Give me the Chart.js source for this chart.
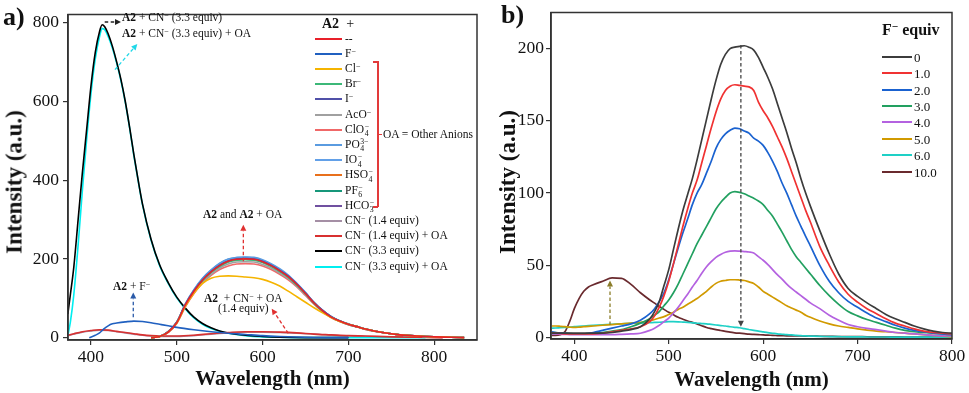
<!DOCTYPE html>
<html><head><meta charset="utf-8">
<script src="https://cdn.jsdelivr.net/npm/chart.js@4.4.0/dist/chart.umd.min.js"></script>
<style>
html,body{margin:0;padding:0;background:#fff}
body{width:969px;height:393px;position:relative;overflow:hidden;font-family:"Liberation Serif","Times New Roman",serif;color:#111}
canvas{position:absolute;top:0}
.t{position:absolute;white-space:nowrap;line-height:1;transform:translateY(-50%)}
.an{font-size:11.5px}
sup{font-size:70%;vertical-align:0.45em;line-height:0}
.ss{display:inline-block;vertical-align:middle;font-size:68%;line-height:0.95;text-align:left;margin-left:0.5px}
.ss span{display:block}
.ytitle{position:absolute;font-weight:bold;font-size:23px;white-space:nowrap;line-height:1;transform:translate(-50%,-50%) rotate(-90deg)}
.xtitle{position:absolute;font-weight:bold;font-size:21px;white-space:nowrap;line-height:1;transform:translate(-50%,-50%)}
.leg{position:absolute;left:0;height:0}
.leg i{position:absolute;height:2px;top:-1px}
.leg span.lt{position:absolute;white-space:nowrap;transform:translateY(-50%);line-height:1}
.br{position:absolute;background:#e23a3a}
.pl{position:absolute;font-weight:bold;font-size:26px;line-height:1;transform:translateY(-50%)}
</style></head><body>
<canvas id="ca" width="490" height="393" style="left:0"></canvas>
<canvas id="cb" width="484" height="393" style="left:485px"></canvas>
<div id="ov"></div>
<script>
// ---------------- Panel a data ----------------
const xTicksA = [400, 500, 600, 700, 800];
const yTicksA = [0, 200, 400, 600, 800];
const namesA = ['--','F⁻','Cl⁻','Br⁻','I⁻','AcO⁻','ClO₄⁻','PO₄³⁻','IO₄⁻','HSO₄⁻','PF₆⁻','HCO₃⁻','CN⁻ (1.4 equiv)','CN⁻ (1.4 equiv) + OA','CN⁻ (3.3 equiv)','CN⁻ (3.3 equiv) + OA'];
const wlA = [470,480,490,500,510,520,530,540,550,560,570,580,590,600,610,620,630,640,650,660,670,680,690,700,710,720,740,760,780,800,820,835];
const a_none = [0,3,14,38,83,118,146,167,183,194,199,200,199,193,183,170,155,135,112,88,68,52,42,34,28,22,13,7,4,2,1,0];
const a_Cl   = [0,3,14,37,80,113,138,151,156,157,156,154,152,148,141,131,118,104,90,76,63,51,41,34,28,22,13,7,4,2,1,0];
const a_Br   = [0,3,14,38,82,117,145,166,181,192,197,198,197,191,181,168,153,133,111,87,67,52,42,34,28,22,13,7,4,2,1,0];
const a_I    = [0,3,15,39,84,119,147,168,184,195,200,201,200,194,184,171,156,136,113,89,69,53,42,34,28,22,13,7,4,2,1,0];
const a_AcO  = [0,3,14,37,80,114,141,161,177,187,192,193,192,186,177,164,150,131,109,86,66,51,41,33,27,21,13,7,4,2,1,0];
const a_ClO4 = [0,3,13,36,78,112,138,158,173,182,187,188,187,182,173,161,147,129,107,85,66,51,41,33,27,21,13,7,4,2,1,0];
const a_PO4  = [0,3,15,40,86,122,151,172,189,200,204,205,204,198,188,175,159,138,115,90,70,54,43,35,28,22,13,7,4,2,1,0];
const a_IO4  = [0,3,15,39,85,121,150,171,188,199,203,204,202,196,186,173,157,137,114,89,69,53,42,34,28,22,13,7,4,2,1,0];
const a_HSO4 = [0,3,15,40,85,120,148,169,185,196,201,202,200,195,185,172,156,136,113,89,69,53,42,34,28,22,13,7,4,2,1,0];
const a_PF6  = [0,3,14,38,82,117,146,166,182,193,198,199,198,192,182,169,154,134,111,88,68,52,42,34,28,22,13,7,4,2,1,0];
const a_HCO3 = [0,3,14,38,83,118,147,168,184,195,200,201,199,193,183,170,155,135,112,88,68,52,42,34,28,22,13,7,4,2,1,0];
const wlF = [398,405,410,415,420,425,430,440,450,460,470,480,490,500,520,540,560,580,600,620,650,680,700];
const a_F = [0,6,12,22,30,35,37,40,42,41,38,34,30,26,20,15,11,8,5,3,1,0,0];
const wlLow = [373,380,390,400,410,420,430,440,450,460,470,480,500,520,540,560,580,600,620,640,660,680,700,720,750,780,810];
const a_CN14   = [5,9,14,17,19,18,15,12,9,6,4,3,3,5,9,12,14,14,13,11,9,6,4,3,2,1,0];
const a_CN14OA = [6,10,15,18,20,19,16,13,10,7,5,4,4,6,10,13,15,15,14,12,9,7,5,4,2,1,0];
const wlCN33 = [373,376,380,385,390,395,400,405,410,413,416,420,425,430,435,440,445,450,455,460,470,480,490,500,510,520,530,540,550,560,580,600,620,650,700];
const a_CN33 = [60,110,180,300,420,530,640,725,778,795,790,772,740,700,655,600,535,465,400,340,250,185,140,103,75,52,36,25,17,12,6,3,1,0,0];
const wlCN33OA = [373,376,380,385,390,395,400,405,410,413,416,420,425,430,435,440,445,450,455,460,470,480,490,500,510,520,530,540,550,560,580,600,620,650,700,750,790];
const a_CN33OA = [5,40,110,235,375,505,620,708,765,785,782,765,735,697,652,598,533,462,398,338,248,183,138,101,73,50,34,23,16,11,5,2,1,0,0,0,0];
const arrowFromA = [[416,802],[428,681],[577.6,194],[449.3,52],[630,11]];
const arrowToA   = [[435,802],[454,746],[577.6,287],[449.3,115],[610.7,73.5]];

// ---------------- Panel b data ----------------
const xTicksB = [400, 500, 600, 700, 800];
const yTicksB = [0, 50, 100, 150, 200];
const namesB = ['0','1.0','2.0','3.0','4.0','5.0','6.0','10.0'];
const wlB = [376,380,385,390,395,400,405,410,415,420,430,440,450,460,470,480,485,490,495,500,505,510,515,520,525,530,535,540,545,550,555,560,565,570,575,580,585,590,595,600,605,610,615,620,625,630,635,640,645,650,660,670,680,690,700,710,720,730,740,750,760,770,780,790,800];
const b0  = [3,3,3,3,3,3,3,3,3,3,3,3.5,4.5,5.5,7.5,13,18,25,36,47,61,75,88,99,110,123,137,151,165,178,189,196,200,201,201.5,202,201,199,194,187,180,172,162,152,142,131,121,110,100,91,74,58,44,34,28.5,24,20,16,13,10.5,8,6,4.5,3.5,3];
const b1  = [3,3,2.8,2.6,2.5,2.5,2.5,2.5,2.5,2.5,3,4,5,6,7.5,11,15,21,29,39,51,64,77,89,100,109,121,133,145,156,165,171,174,175,174.5,174,173.5,171,163,157,152,146,139,132,124,115,106,97,88,80,63,50,38.5,30,24.5,20,16.5,13,10,8,6,4.5,3.5,3,2.5];
const b2  = [4,3.5,3.2,3,2.7,2.5,2.5,2.5,3,3.5,5,6.5,8,9.5,12,16.5,20,25,31,40,51,62,72.5,82,92,100,106,114,122,131,137,141,143.5,145,144.5,143,141.5,138,136,133,128,122,115,107,100,92,84,77,70,63.5,50,39,31,25,21,17,13.5,11,8.5,6.5,5,4,3,2.5,2];
const b3  = [3.5,3.5,3.2,3,2.8,2.5,2.5,2.5,2.8,3,3.5,4.5,5.5,7.5,10,13,15.5,18,22,26,31,37,44,51,58,65,71,77,83,89,93.5,97,100,101,100.5,99.5,98,96.5,94.5,92,88,84,78.5,73,67,61,56,52,48,44,36,29,23,18,15,12.5,10.5,8.5,6.5,5,4,3.5,3,2.5,2];
const b4  = [2.5,2.5,2.3,2.2,2,2,2,2,2,2,2,2,2.2,2.5,3,5,6.5,8.5,11,13.5,17,21,25.5,30,35,39.5,44.5,49,52.5,55.5,57.5,59,59.8,60,59.8,59.5,59.2,58.5,56,53.5,50.5,47,43.5,40.5,37,34,31.5,29,26.5,24,20,15.5,12,9,7.5,6.4,5.5,4.5,3.5,3,2.5,2,1.5,1.2,1];
const b5  = [8,8,7.8,7.5,7.2,7,7.2,7.5,7.8,8,8.5,9,9.5,10,10.5,11.5,12.5,13.5,14.5,16,17.5,19.5,21,23,25,27,29.5,32,35,37.5,39,39.5,40,40,39.8,39.5,38.5,37.5,35,32,30,28,26,24,22,20.5,19,17.5,15.5,14,11.5,9.5,8,7,6,5.2,4.5,4,3.5,3,2.5,2,1.5,1,0.5];
const b6  = [6.5,6.6,6.8,7,7.2,7.5,7.8,8,8.2,8.4,8.8,9.2,9.5,9.8,10,10.3,10.5,10.6,10.8,11,11,10.9,10.7,10.5,10.2,9.9,9.7,9.5,9.1,8.7,8.3,8,7.5,7.1,6.8,6.2,5.6,5,4.4,3.9,3.4,3,2.6,2.3,2,1.8,1.5,1.3,1.1,1,0.8,0.7,0.6,0.5,0.5,0.4,0.4,0.4,0.3,0.3,0.3,0.3,0.3,0.3,0.3];
const b10 = [1.5,1.5,2,4,11,20,27,32,35,36.5,39,41.3,41,36.8,31,26,23.8,21.5,19.5,17.5,15.7,14,12.7,11.5,10.5,9.5,8.2,7,6.2,5.5,4.9,4.3,3.7,3.3,3,2.7,2.4,2.2,2,1.8,1.7,1.5,1.4,1.3,1.2,1.2,1.1,1.1,1,1,0.9,0.8,0.7,0.65,0.6,0.55,0.5,0.5,0.45,0.4,0.4,0.35,0.35,0.3,0.3];
const arrowFromB = [[576.4,202.5],[437.8,8.7]];
const arrowToB   = [[576.4,7.5],[437.8,39.5]];

// ---------------- styles ----------------
const FONT = '"Liberation Serif","Times New Roman",serif';
const colorsA = ['#e8202a','#2060c0','#f5b400','#3cb878','#5050a8','#a0a0a0','#f06868','#5a9be0','#62a0e8','#e8701c','#17977a','#7050a0','#a58fa5','#d83030','#000000','#00eef0'];
const colorsB = ['#3c3c3c','#f03232','#1a62d0','#22a060','#b462e0','#d19a00','#1ed0c6','#6a2a2e'];
const arrowColorsA = ['#222','#20d8e8','#e03030','#2a5aa8','#e03030'];
const arrowColorsB = ['#444','#8b7d2a'];
const drawOrderA = [0,0,0,0,0,0,0,0,0,0,0,0,1,0,0,0];

const xsA = [wlA,wlF,wlA,wlA,wlA,wlA,wlA,wlA,wlA,wlA,wlA,wlA,wlLow,wlLow,wlCN33,wlCN33OA];
const ysA = [a_none,a_F,a_Cl,a_Br,a_I,a_AcO,a_ClO4,a_PO4,a_IO4,a_HSO4,a_PF6,a_HCO3,a_CN14,a_CN14OA,a_CN33,a_CN33OA];
const ysB = [b0,b1,b2,b3,b4,b5,b6,b10];

const pts = (xs, ys) => xs.map((x, i) => ({x, y: ys[i]}));

const framePlugin = {
  id: 'frame',
  afterDraw(chart) {
    const {ctx, chartArea: a} = chart;
    ctx.save(); ctx.strokeStyle = '#333'; ctx.lineWidth = 1.5;
    ctx.strokeRect(a.left, a.top, a.right - a.left, a.bottom - a.top);
    ctx.restore();
  }
};
const arrowPlugin = {
  id: 'arrows',
  afterDatasetsDraw(chart, args, opts) {
    const {ctx, scales: {x, y}} = chart;
    (opts.from || []).forEach((f, i) => {
      const t = opts.to[i];
      const x1 = x.getPixelForValue(f[0]), y1 = y.getPixelForValue(f[1]);
      const x2 = x.getPixelForValue(t[0]), y2 = y.getPixelForValue(t[1]);
      const ang = Math.atan2(y2 - y1, x2 - x1), L = 6, W = 3;
      ctx.save();
      ctx.strokeStyle = opts.colors[i]; ctx.fillStyle = opts.colors[i];
      ctx.lineWidth = 1.3; ctx.setLineDash([3.5, 2.5]);
      ctx.beginPath(); ctx.moveTo(x1, y1);
      ctx.lineTo(x2 - L * Math.cos(ang), y2 - L * Math.sin(ang)); ctx.stroke();
      ctx.setLineDash([]);
      ctx.beginPath(); ctx.moveTo(x2, y2);
      ctx.lineTo(x2 - L * Math.cos(ang) + W * Math.sin(ang), y2 - L * Math.sin(ang) - W * Math.cos(ang));
      ctx.lineTo(x2 - L * Math.cos(ang) - W * Math.sin(ang), y2 - L * Math.sin(ang) + W * Math.cos(ang));
      ctx.closePath(); ctx.fill();
      ctx.restore();
    });
  }
};

function xScale(min, max, ticks, h) {
  return {type: 'linear', min, max,
    afterFit(s) { s.height = h; },
    afterBuildTicks(s) { s.ticks = ticks.map(v => ({value: v})); },
    ticks: {autoSkip: false, maxRotation: 0, font: {family: FONT, size: 17.5}, color: '#111', padding: 2},
    grid: {drawOnChartArea: false, tickLength: 5, color: '#333', lineWidth: 1.2},
    border: {display: true, color: '#333', width: 1.5}};
}
function yScale(min, max, ticks, w, pad) {
  return {type: 'linear', min, max,
    afterFit(s) { s.width = w; },
    afterBuildTicks(s) { s.ticks = ticks.map(v => ({value: v})); },
    ticks: {autoSkip: false, font: {family: FONT, size: 17.5}, color: '#111', padding: pad},
    grid: {drawOnChartArea: false, tickLength: 5, color: '#333', lineWidth: 1.2},
    border: {display: true, color: '#333', width: 1.5}};
}
function ds(label, data, color, w, order) {
  return {label, data, borderColor: color, backgroundColor: color, borderWidth: w, order: order || 0,
    pointRadius: 0, fill: false, cubicInterpolationMode: 'monotone'};
}

new Chart(document.getElementById('ca'), {
  type: 'line',
  data: {datasets: namesA.map((n, i) => ds(n, pts(xsA[i], ysA[i]), colorsA[i], 1.6, drawOrderA[i]))},
  options: {responsive: false, animation: false, devicePixelRatio: 1,
    layout: {padding: {left: 0, right: 13, top: 9, bottom: 0}},
    plugins: {legend: {display: false}, tooltip: {enabled: false},
      arrows: {from: arrowFromA, to: arrowToA, colors: arrowColorsA}},
    scales: {x: xScale(373.2, 850, xTicksA, 53), y: yScale(-6, 821, yTicksA, 68, 4)}},
  plugins: [framePlugin, arrowPlugin]
});
new Chart(document.getElementById('cb'), {
  type: 'line',
  data: {datasets: namesB.map((n, i) => ds(n, pts(wlB, ysB[i]), colorsB[i], 1.7, 0))},
  options: {responsive: false, animation: false, devicePixelRatio: 1,
    layout: {padding: {left: 0, right: 17, top: 9, bottom: 0}},
    plugins: {legend: {display: false}, tooltip: {enabled: false},
      arrows: {from: arrowFromB, to: arrowToB, colors: arrowColorsB}},
    scales: {x: xScale(375.3, 800, xTicksB, 54), y: yScale(-1, 225, yTicksB, 66, 2)}},
  plugins: [framePlugin, arrowPlugin]
});

// ---------------- HTML text overlay ----------------
const ov = document.getElementById('ov');
function add(html, cls, style) { const d = document.createElement('div'); d.className = cls; d.setAttribute('style', style); d.innerHTML = html; ov.appendChild(d); return d; }
const ss = (sup, sub) => `<span class="ss"><span>${sup}</span><span>${sub}</span></span>`;
const legHtmlA = ['--','F<sup>−</sup>','Cl<sup>−</sup>','Br<sup>−</sup>','I<sup>−</sup>','AcO<sup>−</sup>','ClO'+ss('−','4'),'PO'+ss('3−','4'),'IO'+ss('−','4'),'HSO'+ss('−','4'),'PF'+ss('−','6'),'HCO'+ss('−','3'),'CN<sup>−</sup> (1.4 equiv)','CN<sup>−</sup> (1.4 equiv) + OA','CN<sup>−</sup> (3.3 equiv)','CN<sup>−</sup> (3.3 equiv) + OA'];
function legend(htmls, colors, lx, len, tx, y0, dy, fs) {
  htmls.forEach((h, i) => {
    add(`<i style="left:${lx}px;width:${len}px;background:${colors[i]}"></i><span class="lt" style="left:${tx}px;font-size:${fs}px">${h}</span>`, 'leg', `top:${(y0 + i * dy).toFixed(1)}px`);
  });
}
legend(legHtmlA, colorsA, 315, 27, 345, 38.5, 15.2, 11.5);
legend(namesB, colorsB, 882, 30, 914, 56.7, 16.43, 13);
add('<b>A2</b>&nbsp; +', 't', 'left:322px;top:24px;font-size:14px');
add('<b>F<sup>−</sup> equiv</b>', 't', 'left:882px;top:30px;font-size:16px');
// bracket
add('', 'br', 'left:377px;top:61px;width:1.5px;height:146px');
add('', 'br', 'left:373px;top:61px;width:5px;height:1.5px');
add('', 'br', 'left:373px;top:206px;width:5px;height:1.5px');
add('', 'br', 'left:377px;top:133.5px;width:5px;height:1.5px');
add('OA = Other Anions', 't', 'left:383px;top:134.5px;font-size:11.5px');
// annotations panel a
add('<b>A2</b> + CN<sup>−</sup> (3.3 equiv)', 't an', 'left:122px;top:18px');
add('<b>A2</b> + CN<sup>−</sup> (3.3 equiv) + OA', 't an', 'left:122px;top:34px');
add('<b>A2</b> and <b>A2</b> + OA', 't an', 'left:203px;top:215px');
add('<b>A2</b> + F<sup>−</sup>', 't an', 'left:113px;top:287px');
add('<b>A2</b>&nbsp; + CN<sup>−</sup> + OA', 't an', 'left:204px;top:299px');
add('(1.4 equiv)', 't an', 'left:218px;top:309px');
// panel labels and axis titles
add('a)', 'pl', 'left:3px;top:17px');
add('b)', 'pl', 'left:501px;top:15px');
add('Intensity (a.u.)', 'ytitle', 'left:14px;top:182px');
add('Intensity (a.u.)', 'ytitle', 'left:507px;top:182px');
add('Wavelength (nm)', 'xtitle', 'left:272.5px;top:378px');
add('Wavelength (nm)', 'xtitle', 'left:751.5px;top:379px');
</script>
</body></html>
